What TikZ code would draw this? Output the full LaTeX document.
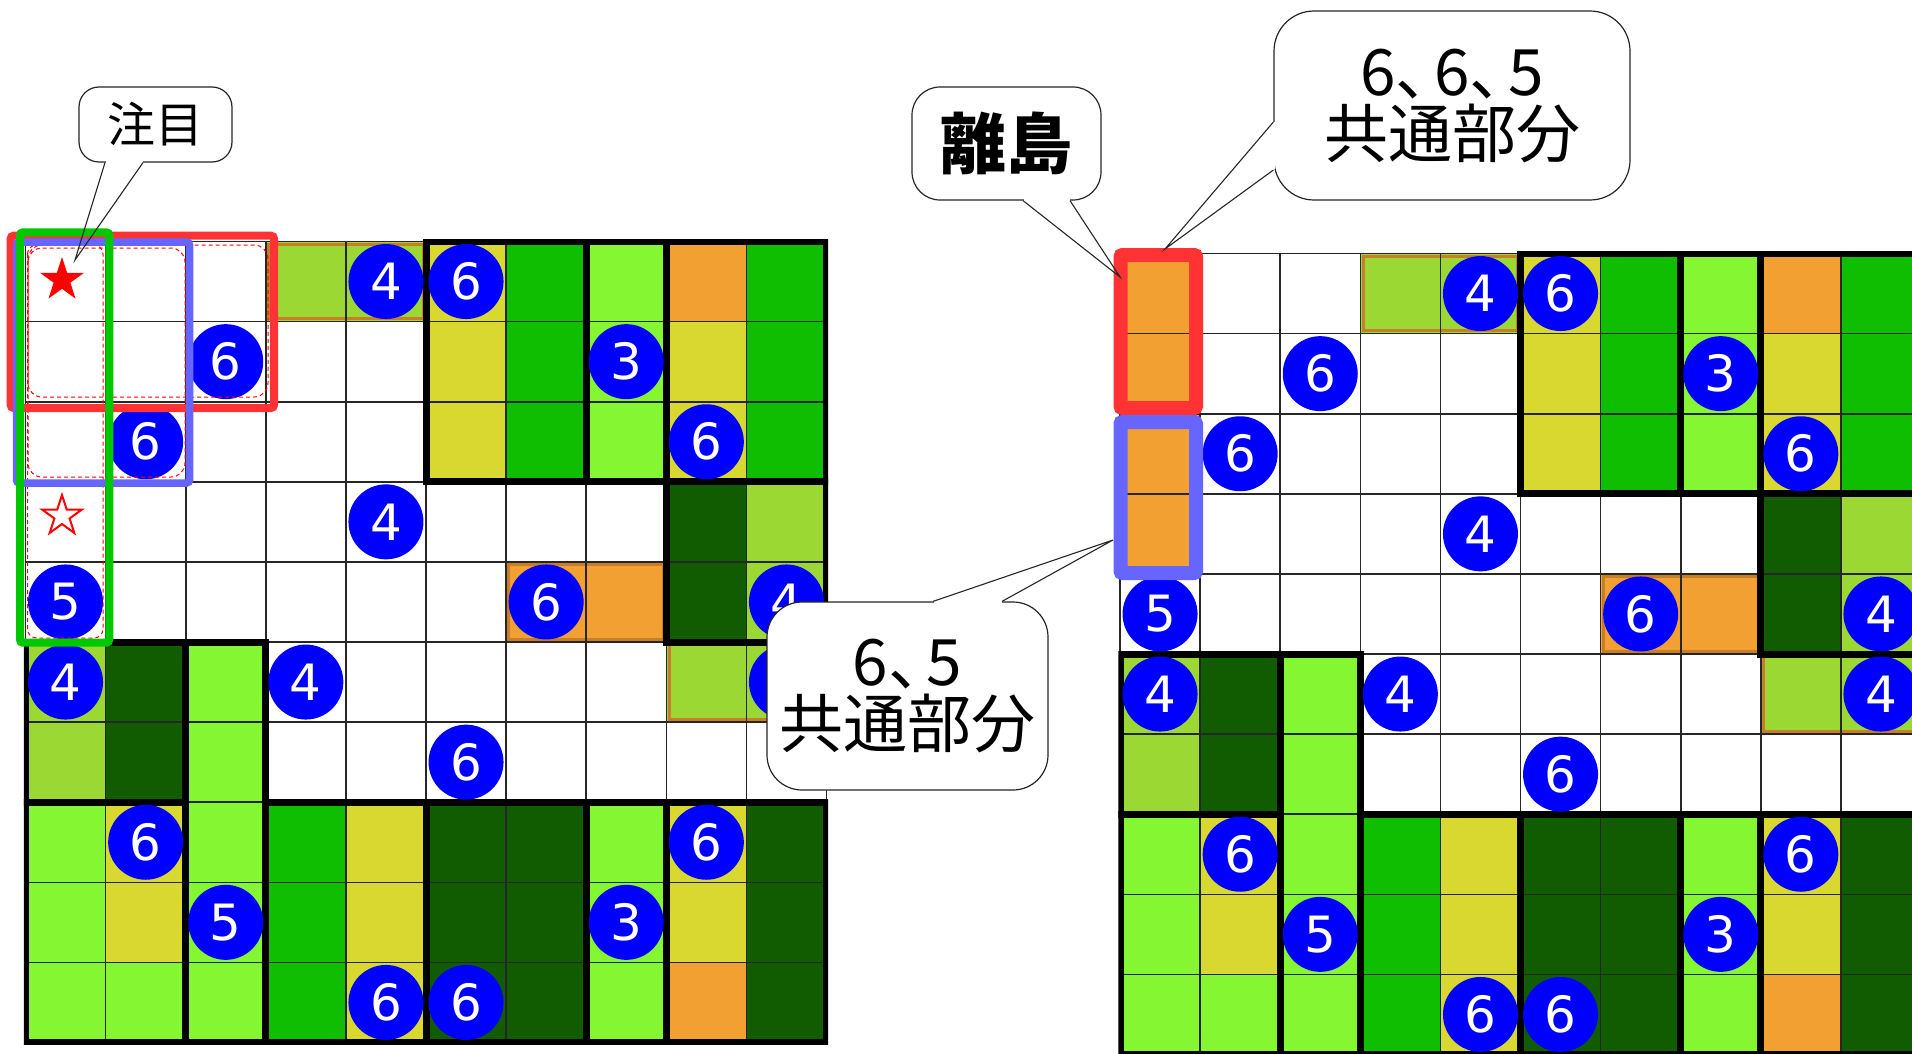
\documentclass[tikz,border=0pt]{standalone}
\usepackage{fontspec}
\newfontfamily\jp{Noto Sans CJK JP}
\newfontfamily\digitfont{DejaVu Sans}
\definecolor{cW}{RGB}{255,255,255}
\definecolor{cV}{RGB}{155,216,51}
\definecolor{cD}{RGB}{17,92,0}
\definecolor{cG}{RGB}{16,190,0}
\definecolor{cL}{RGB}{132,246,50}
\definecolor{cY}{RGB}{216,216,48}
\definecolor{cO}{RGB}{242,160,50}
\definecolor{cOB}{RGB}{200,126,40}
\definecolor{cBlue}{RGB}{0,0,255}
\definecolor{cRed}{RGB}{255,51,51}
\definecolor{cPeri}{RGB}{102,102,255}
\definecolor{cGreenBox}{RGB}{0,200,0}
\tikzset{
  numc/.style={circle, fill=cBlue, minimum size=75pt, inner sep=0pt, text=white,
    font={\digitfont\fontsize{50}{50}\selectfont}},
  thingrid/.style={line width=1.6pt, draw=black!85},
  blockline/.style={line width=7pt, draw=black},
  pairline/.style={line width=3pt, draw=cOB},
  dashbox/.style={draw=red, line width=1pt, dash pattern=on 4pt off 3pt},
  bubble/.style={fill=white, draw=black!85, line width=1.2pt, inner sep=0pt, align=center},
  ptr/.style={draw=black!85, line width=1.1pt},
}
\newcommand\drawboard[5]{%
\begin{scope}[shift={(#2,#3)}, x=80.1pt, y=-80.1pt]
\clip (-0.02,-0.02) rectangle (10.02,10.02);
\foreach \rr/\row in {0/{W,W,W,V,V,Y,G,L,O,G},1/{W,W,W,W,W,Y,G,L,Y,G},2/{W,W,W,W,W,Y,G,L,Y,G},3/{W,W,W,W,W,W,W,W,D,V},4/{W,W,W,W,W,W,O,O,D,V},5/{V,D,L,W,W,W,W,W,V,V},6/{V,D,L,W,W,W,W,W,W,W},7/{L,Y,L,G,Y,D,D,L,Y,D},8/{L,Y,L,G,Y,D,D,L,Y,D},9/{L,L,L,G,Y,D,D,L,O,D}}{%
  \foreach \cl [count=\ci from 0] in \row {\fill[fill=c\cl] (\ci,\rr) rectangle ++(1,1);}}
#4
\foreach \xa/\ya/\xb/\yb in {3/0/5/1,6/4/8/5,8/5/10/6}{\draw[pairline] (\xa+0.035,\ya+0.035) rectangle (\xb-0.035,\yb-0.035);}
\foreach \i in {0,...,10}{\draw[thingrid] (\i,0) -- (\i,10); \draw[thingrid] (0,\i) -- (10,\i);}
\foreach \xa/\ya/\xb/\yb in {5/0/7/3,7/0/8/3,8/0/10/3,8/3/10/5,0/5/2/7,2/5/3/10,0/7/2/10,3/7/5/10,5/7/7/10,7/7/8/10,8/7/10/10}{\draw[blockline] (\xa,\ya) rectangle (\xb,\yb);}
\foreach \rr/\cc/\dd in {#5}{\node[numc] (#1-\rr-\cc) at (\cc+0.5,\rr+0.5) {\dd};}
\end{scope}}
\begin{document}
\begin{tikzpicture}[x=1pt, y=-1pt]
\useasboundingbox (0,0) rectangle (1912,1054);
\fill[white] (0,0) rectangle (1912,1054);
\clip (0,0) rectangle (1912,1054);

\drawboard{L}{25.5}{241.5}{}{0/4/4,0/5/6,1/2/6,1/7/3,2/1/6,2/8/6,3/4/4,4/0/5,4/6/6,4/9/4,5/0/4,5/3/4,5/9/{},6/5/6,7/1/6,7/8/6,8/2/5,8/7/3,9/4/6,9/5/6}
\drawboard{R}{1120}{253.5}{\fill[cO] (0,0) rectangle (1,4);}{0/4/4,0/5/6,1/2/6,1/7/3,2/1/6,2/8/6,3/4/4,4/0/5,4/6/6,4/9/4,5/0/4,5/3/4,5/9/4,6/5/6,7/1/6,7/8/6,8/2/5,8/7/3,9/4/6,9/5/6}

% stars
\begin{scope}[shift={(62,280)}]
\fill[red] (270:23) -- (306:8.8) -- (342:23) -- (18:8.8) -- (54:23) -- (90:8.8) -- (126:23) -- (162:8.8) -- (198:23) -- (234:8.8) -- cycle;
\end{scope}
\begin{scope}[shift={(62,516)}]
\draw[red, fill=white, line width=2pt] (270:21) -- (306:8) -- (342:21) -- (18:8) -- (54:21) -- (90:8) -- (126:21) -- (162:8) -- (198:21) -- (234:8) -- cycle;
\end{scope}

% dashed regions
\draw[dashbox, rounded corners=14pt] (28,245) rectangle (268,397);
\draw[dashbox, rounded corners=14pt] (28,248) rectangle (185,477);
\draw[dashbox, rounded corners=9pt] (27.5,245) rectangle (103,638);

% highlight boxes left
\draw[cRed, line width=8pt, rounded corners=3pt] (10.7,235.7) rectangle (274,408);
\draw[cPeri, line width=7.5pt, rounded corners=3pt] (16.5,242) rectangle (189.5,483);
\draw[cGreenBox, line width=8pt, rounded corners=3pt] (20,232.3) rectangle (109.3,642.7);

% highlight boxes right
\draw[cRed, line width=14pt, rounded corners=2pt] (1120.5,255) rectangle (1196,408);
\draw[cPeri, line width=14pt, rounded corners=2pt] (1120.5,422) rectangle (1196,573);

% callout 1
\node[bubble, minimum width=153pt, minimum height=75pt, rounded corners=20pt,
  font={\jp\fontsize{48}{48}\selectfont}] (c1) at (155.5,124.5) {注目};
\coordinate (tip1) at (75,260);
\fill[white] ([xshift=-50pt,yshift=2pt]c1.south) rectangle ([xshift=-13pt,yshift=-2pt]c1.south);
\draw[ptr] ([xshift=-50.5pt]c1.south) -- (tip1) -- ([xshift=-12.5pt]c1.south);

% callout 2
\node[bubble, minimum width=189pt, minimum height=113pt, rounded corners=28pt,
  font={\jp\bfseries\fontsize{66}{66}\selectfont}] (c2) at (1006.5,143.5) {離島};
\coordinate (tip2) at (1120,277);
\fill[white] ([xshift=17pt,yshift=2pt]c2.south) rectangle ([xshift=63pt,yshift=-2pt]c2.south);
\draw[ptr] ([xshift=16.5pt]c2.south) -- (tip2) -- ([xshift=63.5pt]c2.south);

% callout 3
\node[bubble, minimum width=356pt, minimum height=189pt, rounded corners=40pt,
  font={\jp\fontsize{64}{62}\selectfont}] (c3) at (1452,105.5) {6、\kern-0.4em 6、\kern-0.4em 5\\共通部分};
\coordinate (tip3) at (1165,249);
\fill[white] ([xshift=-2pt,yshift=-17pt]c3.west) rectangle ([xshift=2pt,yshift=-64pt]c3.west);
\draw[ptr] ([yshift=-16.5pt]c3.west) -- (tip3) -- ([yshift=-64.5pt]c3.west);

% callout 4
\node[bubble, minimum width=281pt, minimum height=188pt, rounded corners=35pt,
  font={\jp\fontsize{64}{62}\selectfont}] (c4) at (907.5,696) {6、\kern-0.4em 5\\共通部分};
\coordinate (tip4) at (1113,540);
\fill[white] ([xshift=26pt,yshift=2pt]c4.north) rectangle ([xshift=94pt,yshift=-2pt]c4.north);
\draw[ptr] ([xshift=25.5pt]c4.north) -- (tip4) -- ([xshift=94.5pt]c4.north);
\end{tikzpicture}
\end{document}
